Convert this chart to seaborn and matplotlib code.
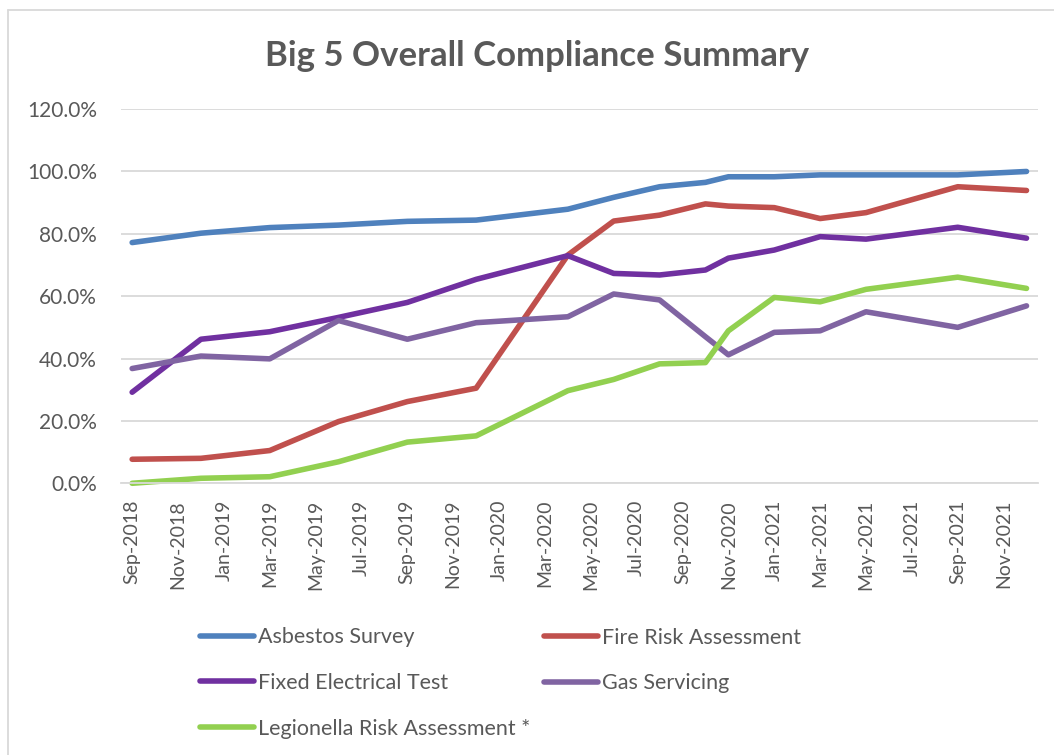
import pandas as pd
import numpy as np
import matplotlib
matplotlib.use('Agg')
import matplotlib.pyplot as plt
import matplotlib.ticker as ticker
from matplotlib.lines import Line2D
import seaborn as sns

# Data

dates = ['Sep-2018', 'Dec-2018', 'Mar-2019', 'Jun-2019', 'Sep-2019', 'Dec-2019',
         'Apr-2020', 'Jun-2020', 'Aug-2020', 'Oct-2020', 'Nov-2020', 'Jan-2021',
         'Mar-2021', 'May-2021', 'Sep-2021', 'Dec-2021']

asbestos   = [77.2, 80.2, 82.0, 82.8, 84.0, 84.4, 87.9, 91.7, 95.1, 96.5, 98.3, 98.3, 98.9, 98.9, 98.9, 100.0]
fire       = [7.7, 8.0, 10.5, 19.8, 26.2, 30.5, 73.2, 84.1, 86.0, 89.6, 88.9, 88.4, 84.9, 86.8, 95.1, 93.9]
electrical = [29.2, 46.2, 48.6, 53.2, 58.0, 65.4, 73.0, 67.3, 66.8, 68.4, 72.2, 74.8, 79.1, 78.3, 82.1, 78.6]
gas        = [36.8, 40.8, 39.9, 52.2, 46.2, 51.5, 53.4, 60.7, 58.8, 47.0, 41.2, 48.4, 48.9, 55.0, 50.0, 56.9]
legionella = [0.0, 1.6, 2.1, 6.9, 13.2, 15.2, 29.7, 33.3, 38.3, 38.7, 48.9, 59.6, 58.2, 62.2, 66.1, 62.5]

series_names = ['Asbestos Survey', 'Fire Risk Assessment', 'Fixed Electrical Test',
                'Gas Servicing', 'Legionella Risk Assessment *']
series_values = [asbestos, fire, electrical, gas, legionella]
series_colors = ['#4F81BD', '#C0504D', '#7030A0', '#8064A2', '#92D050']

# Styling

sns.set_style('white')
plt.rcParams['font.family'] = ['Lato', 'DejaVu Sans']
text_color = '#595959'
grid_color = '#d9d9d9'

# Build long table, month index from start (Excel-style month buckets)

d = pd.to_datetime(dates, format='%b-%Y')
start = d[0]
month_idx = (d.year - start.year) * 12 + (d.month - start.month)

df = pd.concat([
    pd.DataFrame({'month': month_idx, 'value': vals, 'series': name})
    for name, vals in zip(series_names, series_values)
], ignore_index=True)

tick_dates = pd.date_range(start, '2021-11-01', freq='2MS')
tick_pos = (tick_dates.year - start.year) * 12 + (tick_dates.month - start.month)
tick_labels = tick_dates.strftime('%b-%Y')

# Figure

fig = plt.figure(figsize=(10.54, 7.55), dpi=100)
ax = fig.add_axes([0.1145, 0.3599, 0.8703, 0.4956])

sns.lineplot(data=df, x='month', y='value', hue='series', hue_order=series_names,
             palette=series_colors, linewidth=4, estimator=None, sort=False,
             legend=False, ax=ax, solid_capstyle='round', solid_joinstyle='round',
             clip_on=False)

ax.set_xlim(-0.5, 39.5)
ax.set_ylim(0, 120)
ax.set_yticks(np.arange(0, 121, 20))
ax.yaxis.set_major_formatter(ticker.PercentFormatter(decimals=1))
ax.grid(axis='y', color=grid_color, linewidth=1.3)
ax.grid(axis='x', visible=False)
ax.set_axisbelow(True)

ax.set_xticks(tick_pos)
ax.set_xticklabels(tick_labels, rotation=90, ha='center', va='top')
ax.set_xticks(np.arange(-0.5, 40, 2), minor=True)
ax.tick_params(axis='x', which='major', length=0, pad=12, labelsize=14, labelcolor=text_color)
ax.tick_params(axis='x', which='minor', length=5, width=1.3, color=grid_color, direction='out')
ax.tick_params(axis='y', length=0, pad=17, labelsize=15, labelcolor=text_color)
ax.set_xlabel('')
ax.set_ylabel('')

for side in ['left', 'right', 'top']:
    ax.spines[side].set_visible(False)
ax.spines['bottom'].set_color(grid_color)
ax.spines['bottom'].set_linewidth(1.3)

fig.text(0.51, 1 - 56 / 755, 'Big 5 Overall Compliance Summary', ha='center', va='center',
         fontsize=25, fontweight='bold', color=text_color)

# Legend in two columns laid out like the original (row-wise order)
handles = {name: Line2D([], [], color=c, linewidth=4, solid_capstyle='round')
           for name, c in zip(series_names, series_colors)}

col1 = ['Asbestos Survey', 'Fixed Electrical Test', 'Legionella Risk Assessment *']
col2 = ['Fire Risk Assessment', 'Gas Servicing']
leg_kw = dict(frameon=False, fontsize=15.5, handlelength=2.5, handletextpad=0.2,
              labelspacing=1.2, borderpad=0, borderaxespad=0, labelcolor=text_color)
leg1 = fig.legend([handles[n] for n in col1], col1, loc='center left',
                  bbox_to_anchor=(200 / 1054, 1 - 683 / 755), **leg_kw)
leg2 = fig.legend([handles[n] for n in col2], col2, loc='center left',
                  bbox_to_anchor=(544 / 1054, 1 - 660.5 / 755), **leg_kw)

# Chart border (left and top edges visible in the crop)
fig.add_artist(Line2D([8 / 1054, 1], [1 - 10 / 755, 1 - 10 / 755], color=grid_color, linewidth=1.3))
fig.add_artist(Line2D([8 / 1054, 8 / 1054], [0, 1 - 10 / 755], color=grid_color, linewidth=1.3))

fig.savefig('out.png', dpi=100, facecolor='white')
